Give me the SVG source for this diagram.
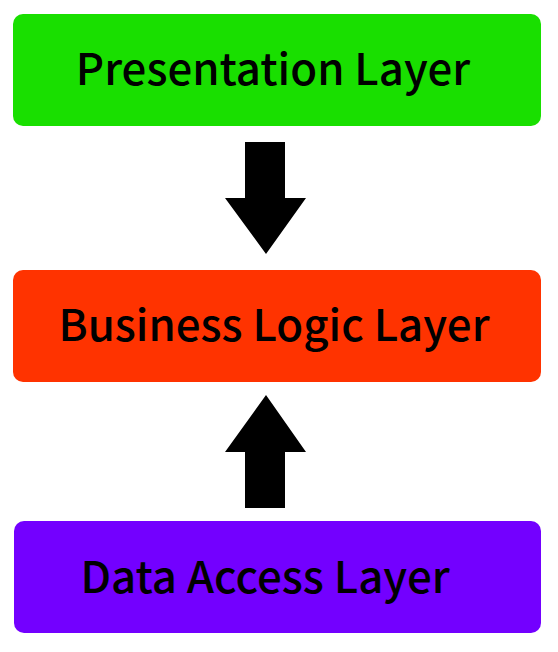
<svg xmlns="http://www.w3.org/2000/svg" width="558" height="652" viewBox="0 0 558 652">
<style>
.box{stroke:none}
.lbl{font-family:"Noto Sans CJK SC","Noto Sans",sans-serif;font-weight:500;font-size:43.8px;fill:#000;text-anchor:middle}
.arr{fill:#000}
</style>
<rect width="558" height="652" fill="#fff"/>
<g id="presentation">
<rect class="box" x="13" y="14" width="528" height="112" rx="10" fill="#19df00"/>
<text class="lbl" x="273" y="85">Presentation Layer</text>
</g>
<g id="business">
<rect class="box" x="13" y="270" width="528" height="112" rx="10" fill="#ff3300"/>
<text class="lbl" x="274" y="341">Business Logic Layer</text>
</g>
<g id="data">
<rect class="box" x="14" y="521" width="527" height="112" rx="10" fill="#7300ff"/>
<text class="lbl" x="265" y="593">Data Access Layer</text>
</g>
<g id="connectors">
<polygon class="arr" points="245,142 285,142 285,198 306,198 266,254 225,198 245,198"/>
<polygon class="arr" points="266,395 306,452 285,452 285,508 245,508 245,452 225,452"/>
</g>
</svg>
